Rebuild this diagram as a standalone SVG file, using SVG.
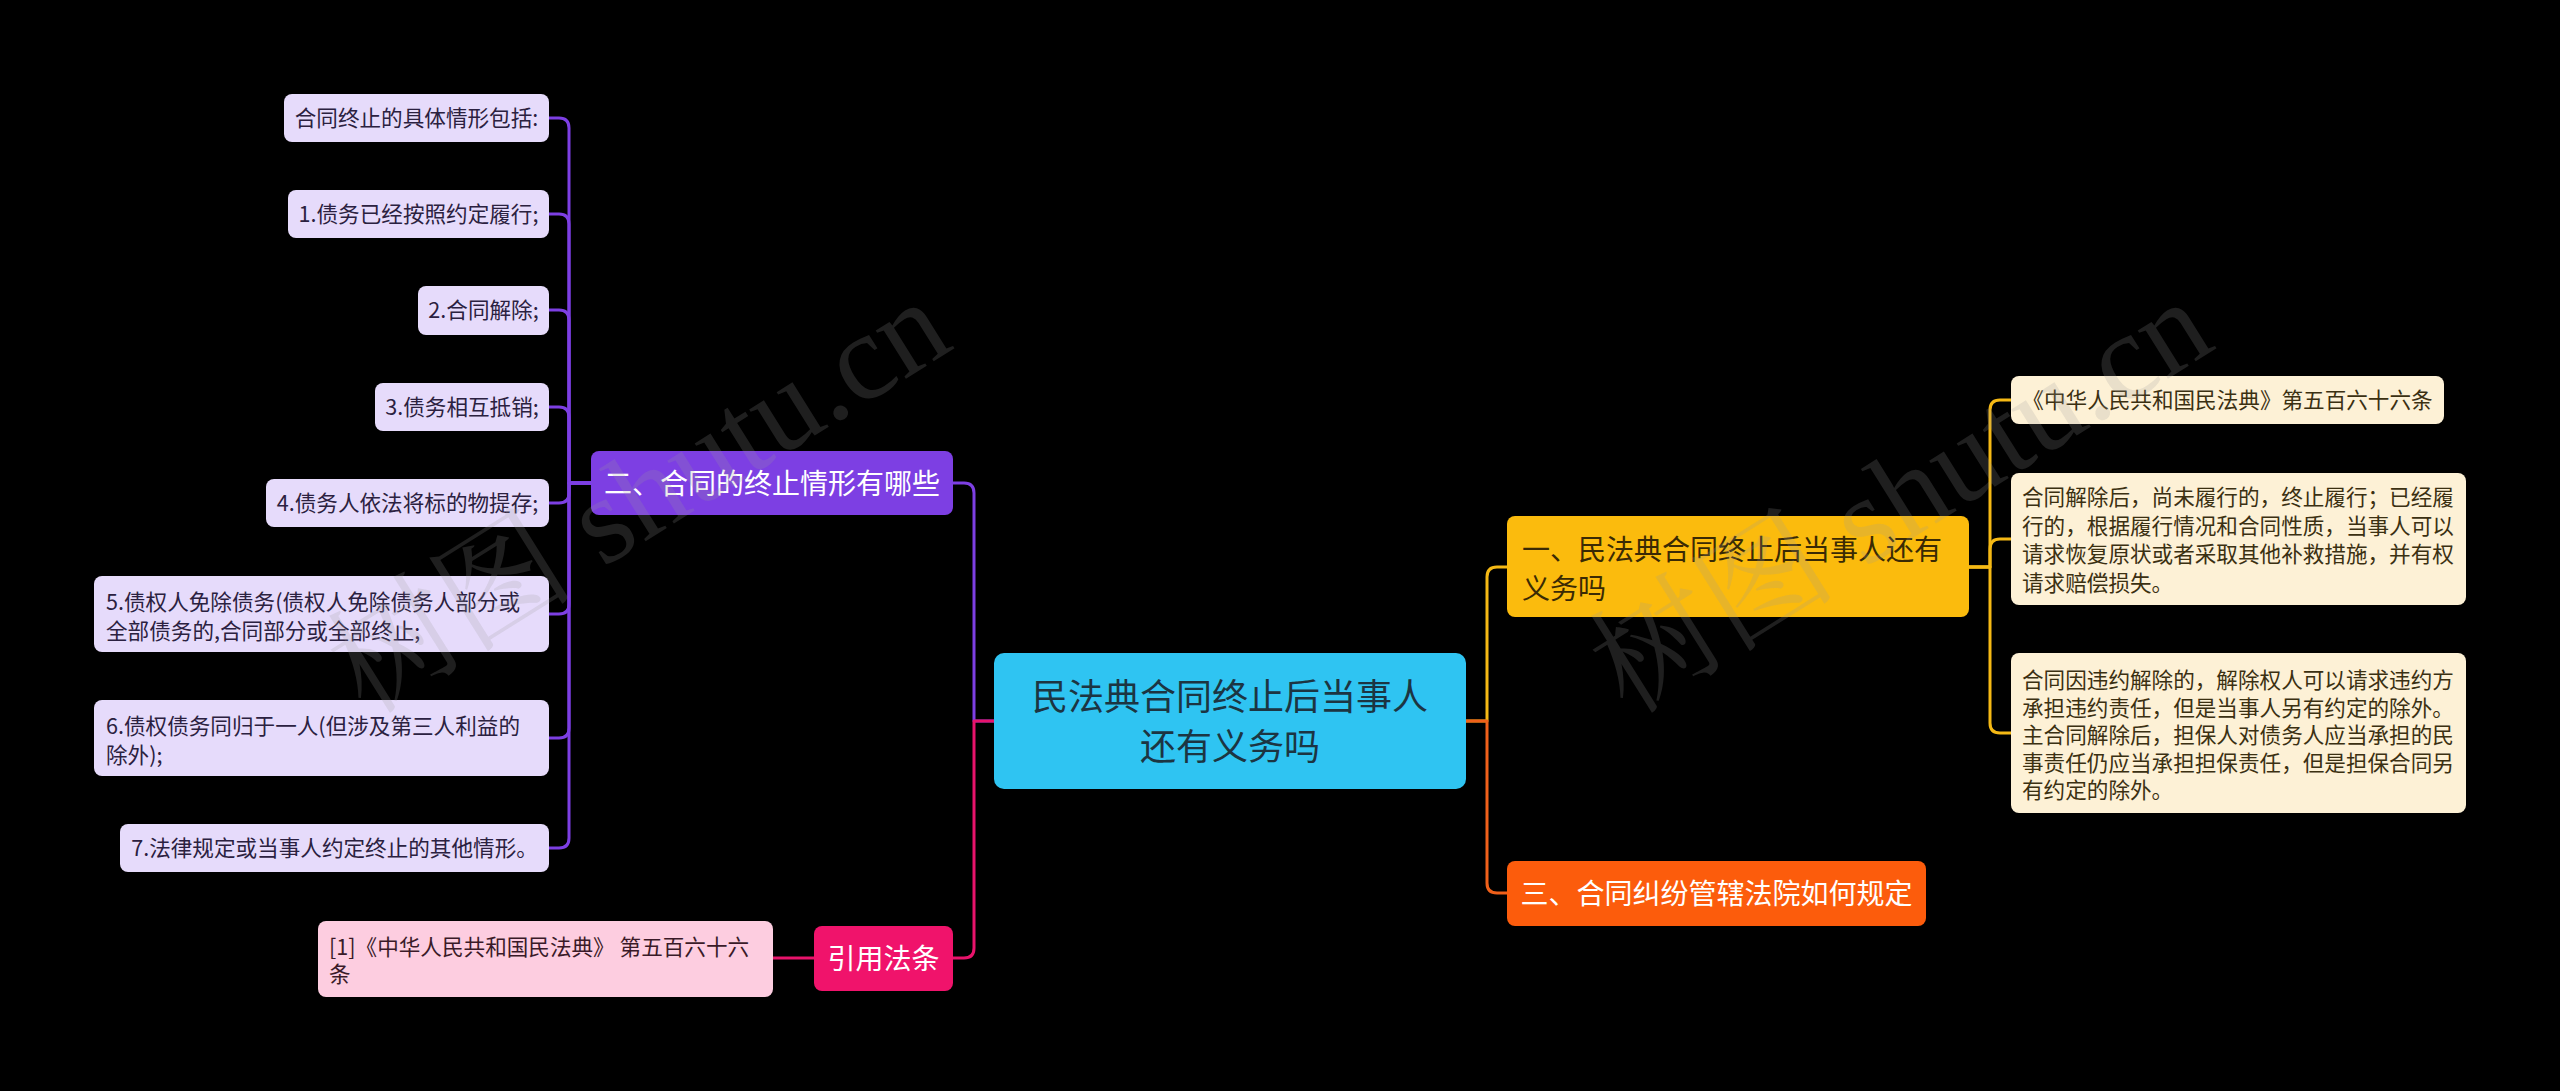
<svg xmlns="http://www.w3.org/2000/svg" width="2560" height="1091" viewBox="0 0 2560 1091">
<style>
text{font-family:"Noto Sans CJK SC","Noto Sans",sans-serif;}
.e{fill:none;stroke-width:3;stroke-linejoin:round;}
.ep{stroke:#7d3fe3;}
.ek{stroke:#e8136b;}
.ey{stroke:#f5b915;}
.eo{stroke:#f0601a;}
.lv{fill:#e6dbfb;}
.lvt{fill:#2b2140;font-size:21.6px;}
.cr{fill:#fdf1d6;}
.crt{fill:#3b3012;font-size:21.6px;}
.wm{font-family:"Liberation Serif","Noto Serif CJK SC","Noto Sans CJK SC",serif;font-size:124px;fill:#9a9a9a;fill-opacity:0.2;}
</style>
<rect x="0" y="0" width="2560" height="1091" fill="#000000"/>
<g id="connectors">
<path class="e ep" d="M994 721 H974 V493 Q974 483 964 483 H953"/>
<path class="e ek" d="M994 721 H974 V948 Q974 958 964 958 H953"/>
<path class="e ey" d="M1466 721 H1487 V577 Q1487 567 1497 567 H1507"/>
<path class="e eo" d="M1466 721 H1487 V883 Q1487 893 1497 893 H1507"/>
<path class="e ep" d="M591 483 H569 V128 Q569 118 559 118 H549"/>
<path class="e ep" d="M591 483 H569 V224 Q569 214 559 214 H549"/>
<path class="e ep" d="M591 483 H569 V320 Q569 310 559 310 H549"/>
<path class="e ep" d="M591 483 H569 V417 Q569 407 559 407 H549"/>
<path class="e ep" d="M591 483 H569 V493 Q569 503 559 503 H549"/>
<path class="e ep" d="M591 483 H569 V604 Q569 614 559 614 H549"/>
<path class="e ep" d="M591 483 H569 V728 Q569 738 559 738 H549"/>
<path class="e ep" d="M591 483 H569 V838 Q569 848 559 848 H549"/>
<path class="e ek" d="M814 958 H773"/>
<path class="e ey" d="M1969 567 H1990 V410 Q1990 400 2000 400 H2011"/>
<path class="e ey" d="M1969 567 H1990 V549 Q1990 539 2000 539 H2011"/>
<path class="e ey" d="M1969 567 H1990 V723 Q1990 733 2000 733 H2011"/>
</g>
<g id="root">
<rect x="994" y="653" width="472" height="136" rx="10" fill="#2fc4f2"/>
<text x="1230" y="709.7" text-anchor="middle" font-size="36" fill="#1c3542">民法典合同终止后当事人</text>
<text x="1230" y="759.7" text-anchor="middle" font-size="36" fill="#1c3542">还有义务吗</text>
</g>
<g id="n1">
<rect x="1507" y="516" width="462" height="101" rx="8" fill="#fbbb0d"/>
<text x="1522" y="559.6" font-size="28" fill="#3a2a04">一、民法典合同终止后当事人还有</text>
<text x="1522" y="598.6" font-size="28" fill="#3a2a04">义务吗</text>
</g>
<g id="n1c1">
<rect class="cr" x="2011" y="376" width="433" height="48" rx="8"/>
<text class="crt" x="2227.5" y="408.4" text-anchor="middle">《中华人民共和国民法典》第五百六十六条</text>
</g>
<g id="n1c2">
<rect class="cr" x="2011" y="473" width="455" height="132" rx="8"/>
<text class="crt" x="2022" y="505.4">合同解除后，尚未履行的，终止履行；已经履</text>
<text class="crt" x="2022" y="533.9">行的，根据履行情况和合同性质，当事人可以</text>
<text class="crt" x="2022" y="562.4">请求恢复原状或者采取其他补救措施，并有权</text>
<text class="crt" x="2022" y="590.9">请求赔偿损失。</text>
</g>
<g id="n1c3">
<rect class="cr" x="2011" y="653" width="455" height="160" rx="8"/>
<text class="crt" x="2022" y="688.4">合同因违约解除的，解除权人可以请求违约方</text>
<text class="crt" x="2022" y="715.9">承担违约责任，但是当事人另有约定的除外。</text>
<text class="crt" x="2022" y="743.4">主合同解除后，担保人对债务人应当承担的民</text>
<text class="crt" x="2022" y="770.9">事责任仍应当承担担保责任，但是担保合同另</text>
<text class="crt" x="2022" y="798.4">有约定的除外。</text>
</g>
<g id="n3">
<rect x="1507" y="861" width="419" height="65" rx="8" fill="#fc5c0c"/>
<text x="1716.5" y="903.6" text-anchor="middle" font-size="28" fill="#ffffff">三、合同纠纷管辖法院如何规定</text>
</g>
<g id="n2">
<rect x="591" y="451" width="362" height="64" rx="8" fill="#7d3fe3"/>
<text x="772" y="493.6" text-anchor="middle" font-size="28" fill="#ffffff">二、合同的终止情形有哪些</text>
</g>
<g id="n2c0">
<rect class="lv" x="284" y="94" width="265" height="48" rx="8"/>
<text class="lvt" x="416.5" y="126.4" text-anchor="middle">合同终止的具体情形包括:</text>
</g>
<g id="n2c1">
<rect class="lv" x="288" y="190" width="261" height="48" rx="8"/>
<text class="lvt" x="418.5" y="222.4" text-anchor="middle">1.债务已经按照约定履行;</text>
</g>
<g id="n2c2">
<rect class="lv" x="418" y="286" width="131" height="49" rx="8"/>
<text class="lvt" x="483.5" y="318.4" text-anchor="middle">2.合同解除;</text>
</g>
<g id="n2c3">
<rect class="lv" x="375" y="383" width="174" height="48" rx="8"/>
<text class="lvt" x="462" y="415.4" text-anchor="middle">3.债务相互抵销;</text>
</g>
<g id="n2c4">
<rect class="lv" x="266" y="479" width="283" height="48" rx="8"/>
<text class="lvt" x="407.5" y="511.4" text-anchor="middle">4.债务人依法将标的物提存;</text>
</g>
<g id="n2c5">
<rect class="lv" x="94" y="576" width="455" height="76" rx="8"/>
<text class="lvt" x="106" y="610.1">5.债权人免除债务(债权人免除债务人部分或</text>
<text class="lvt" x="106" y="639.2">全部债务的,合同部分或全部终止;</text>
</g>
<g id="n2c6">
<rect class="lv" x="94" y="700" width="455" height="76" rx="8"/>
<text class="lvt" x="106" y="734.4">6.债权债务同归于一人(但涉及第三人利益的</text>
<text class="lvt" x="106" y="763.4">除外);</text>
</g>
<g id="n2c7">
<rect class="lv" x="120" y="824" width="429" height="48" rx="8"/>
<text class="lvt" x="334.5" y="856.4" text-anchor="middle">7.法律规定或当事人约定终止的其他情形。</text>
</g>
<g id="n4">
<rect x="814" y="926" width="139" height="65" rx="8" fill="#f0136b"/>
<text x="883.5" y="968.6" text-anchor="middle" font-size="28" fill="#ffffff">引用法条</text>
</g>
<g id="n4c1">
<rect x="318" y="921" width="455" height="76" rx="8" fill="#fdcde0"/>
<text x="329" y="955.4" font-size="21.6" fill="#3a1a28">[1]《中华人民共和国民法典》 第五百六十六</text>
<text x="329" y="982.4" font-size="21.6" fill="#3a1a28">条</text>
</g>
<g id="watermark">
<text class="wm" x="366" y="716" transform="rotate(-32 366 716)">树图 shutu.cn</text>
<text class="wm" x="1628" y="716" transform="rotate(-32 1628 716)">树图 shutu.cn</text>
</g>
</svg>
